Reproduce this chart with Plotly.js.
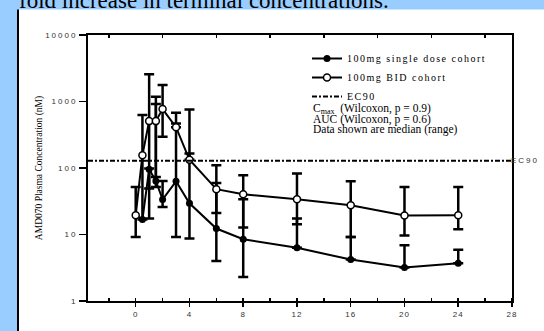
<!DOCTYPE html>
<html><head><meta charset="utf-8">
<script src="https://cdn.plot.ly/plotly-3.0.1.min.js"></script>
<style>
html,body{margin:0;padding:0;background:#fff;overflow:hidden;}
#chart{width:544px;height:331px;}
.ytick text{letter-spacing:2px;}
.xtick text{letter-spacing:1px;}
.legendtext{letter-spacing:1.5px;}
g.annotation[data-index="4"] text{letter-spacing:2px;}
</style></head><body><div id="chart"></div>
<script>
// ---- data ----
const timesH = [0, 0.5, 1, 1.5, 2, 3, 4, 6, 8, 12, 16, 20, 24];
const singleMedian = [19.5, 16.8, 96, 64, 33.6, 63, 29.5, 12.3, 8.5, 6.3, 4.2, 3.2, 3.7];
const singleHigh   = [19.5, 16.8, 98, 914, 64, 468, 165, 59.7, 33.9, 17.4, 9.2, 6.9, 5.9];
const singleLow    = [19.5, 16.8, 17.4, 52, 26, 9.2, 8.7, 4.0, 2.3, 6.3, 4.2, 3.2, 3.7];
const bidMedian = [19.5, 156, 507, 507, 769, 411, 133, 48, 40.3, 33.9, 27.5, 19.3, 19.5];
const bidHigh   = [52, 624, 2560, 1178, 1766, 676, 760, 110, 78, 82.6, 63, 52, 52];
const bidLow    = [9.2, 16.8, 49, 73.5, 294, 411, 133, 21, 12.7, 14.3, 9.2, 9.7, 12];
const ec90 = 129;
const seriesNames = ['100mg single dose cohort', '100mg BID cohort', 'EC90'];
const xTickVals = [0, 4, 8, 12, 16, 20, 24, 28];
const xTickText = ['0', '4', '8', '12', '16', '20', '24', '28'];
const yTickVals = [1, 10, 100, 1000, 10000];
const yTickText = ['1', '10', '100', '1000', '10000'];
const titleText = 'fold increase in terminal concentrations.';
const yTitleText = 'AMD070 Plasma Concentration (nM)';
const noteLines = ['C<sub>max</sub>  (Wilcoxon, p = 0.9)', 'AUC (Wilcoxon, p = 0.6)', 'Data shown are median (range)'];

// ---- helpers ----
function errPlus(med, hi, lo) { return med.map((m, i) => (hi[i] === m && lo[i] === m) ? NaN : hi[i] - m); }
function errMinus(med, hi, lo) { return med.map((m, i) => (hi[i] === m && lo[i] === m) ? NaN : m - lo[i]); }

const xRange = [-3.55, 28];
const serif = 'Liberation Serif, Times New Roman, serif';
const sans = 'Liberation Sans, Arial, sans-serif';
const pxX = px => (px - 88) / 424;   // page pixel -> paper x
const pxY = py => (301 - py) / 266;  // page pixel -> paper y

const ebStyle = {type: 'data', symmetric: false, color: '#000', thickness: 2.5, width: 5};

const traces = [
  {
    x: timesH, y: singleMedian, mode: 'lines+markers', name: seriesNames[0], legendrank: 1,
    line: {color: '#000', width: 2},
    marker: {symbol: 'circle', size: 7, color: '#000'},
    error_y: Object.assign({array: errPlus(singleMedian, singleHigh, singleLow), arrayminus: errMinus(singleMedian, singleHigh, singleLow)}, ebStyle)
  },
  {
    x: timesH, y: bidMedian, mode: 'lines+markers', name: seriesNames[1], legendrank: 2,
    line: {color: '#000', width: 2},
    marker: {symbol: 'circle', size: 7, color: '#fff', line: {color: '#000', width: 1.5}},
    error_y: Object.assign({array: errPlus(bidMedian, bidHigh, bidLow), arrayminus: errMinus(bidMedian, bidHigh, bidLow)}, ebStyle)
  },
  {
    x: xRange, y: [ec90, ec90], mode: 'lines', name: seriesNames[2], legendrank: 3, xaxis: 'x2',
    line: {color: '#000', width: 2, dash: '5px,2px,2px,2px'}, hoverinfo: 'skip'
  }
];

const noteFont = {family: serif, size: 11.5, color: '#000'};
const annotations = [
  {text: titleText, xref: 'paper', yref: 'paper', x: pxX(17), y: pxY(15), xanchor: 'left', yanchor: 'bottom',
   showarrow: false, font: {family: serif, size: 23, color: '#000'}},
  {text: noteLines[0], xref: 'paper', yref: 'paper', x: pxX(311), y: pxY(109), xanchor: 'left', yanchor: 'middle',
   showarrow: false, font: noteFont},
  {text: noteLines[1], xref: 'paper', yref: 'paper', x: pxX(311), y: pxY(119.5), xanchor: 'left', yanchor: 'middle',
   showarrow: false, font: noteFont},
  {text: noteLines[2], xref: 'paper', yref: 'paper', x: pxX(311), y: pxY(129.5), xanchor: 'left', yanchor: 'middle',
   showarrow: false, font: noteFont},
  {text: seriesNames[2], xref: 'paper', yref: 'y', x: 1.002, y: Math.log10(ec90), xanchor: 'left', yanchor: 'middle',
   showarrow: false, font: {family: sans, size: 8, color: '#333'}}
];

const layout = {
  width: 544, height: 331,
  margin: {l: 88, r: 32, t: 35, b: 30},
  paper_bgcolor: '#99CCFF', plot_bgcolor: '#fff',
  showlegend: true,
  legend: {x: pxX(307), y: pxY(44), xanchor: 'left', yanchor: 'top',
           bgcolor: 'rgba(0,0,0,0)', borderwidth: 0, itemwidth: 30,
           font: {family: serif, size: 10, color: '#000'}},
  xaxis: {
    range: xRange, autorange: false, showgrid: false, zeroline: false,
    showline: true, linecolor: '#000', linewidth: 2, mirror: true,
    tickmode: 'array', tickvals: xTickVals, ticktext: xTickText,
    ticks: 'outside', ticklen: 4, tickwidth: 1.5, tickcolor: '#000',
    minor: {dtick: 2, tick0: 0, ticks: 'inside', ticklen: 3, tickwidth: 1.5, tickcolor: '#000', showgrid: false},
    tickfont: {family: sans, size: 8, color: '#333'}
  },
  xaxis2: {
    overlaying: 'x', side: 'top', anchor: 'y', range: xRange, autorange: false,
    showgrid: false, zeroline: false, showline: false, showticklabels: false,
    tick0: 0, dtick: 4, ticks: '',
    minor: {dtick: 2, tick0: 0, ticks: 'inside', ticklen: 3, tickwidth: 1.5, tickcolor: '#000', showgrid: false}
  },
  yaxis: {
    type: 'log', range: [0, 4], autorange: false, showgrid: false, zeroline: false,
    showline: true, linecolor: '#000', linewidth: 2, mirror: true,
    tickmode: 'array', tickvals: yTickVals, ticktext: yTickText,
    ticks: 'outside', ticklen: 7, tickwidth: 1.5, tickcolor: '#000',
    tickfont: {family: sans, size: 8, color: '#333'},
    title: {text: yTitleText, standoff: 1, font: {family: serif, size: 9.5, color: '#000'}}
  },
  shapes: [
    {type: 'rect', xref: 'paper', yref: 'paper', x0: pxX(19), x1: 1.2, y0: -0.3, y1: pxY(9.5),
     fillcolor: '#fff', line: {width: 0}, layer: 'below'},
    {type: 'line', xref: 'paper', yref: 'paper', x0: pxX(18), x1: pxX(18), y0: -0.3, y1: pxY(9.5),
     line: {color: '#000', width: 2}, layer: 'below'}
  ],
  annotations: annotations
};

Plotly.newPlot('chart', traces, layout, {staticPlot: true, displayModeBar: false});
</script></body></html>
